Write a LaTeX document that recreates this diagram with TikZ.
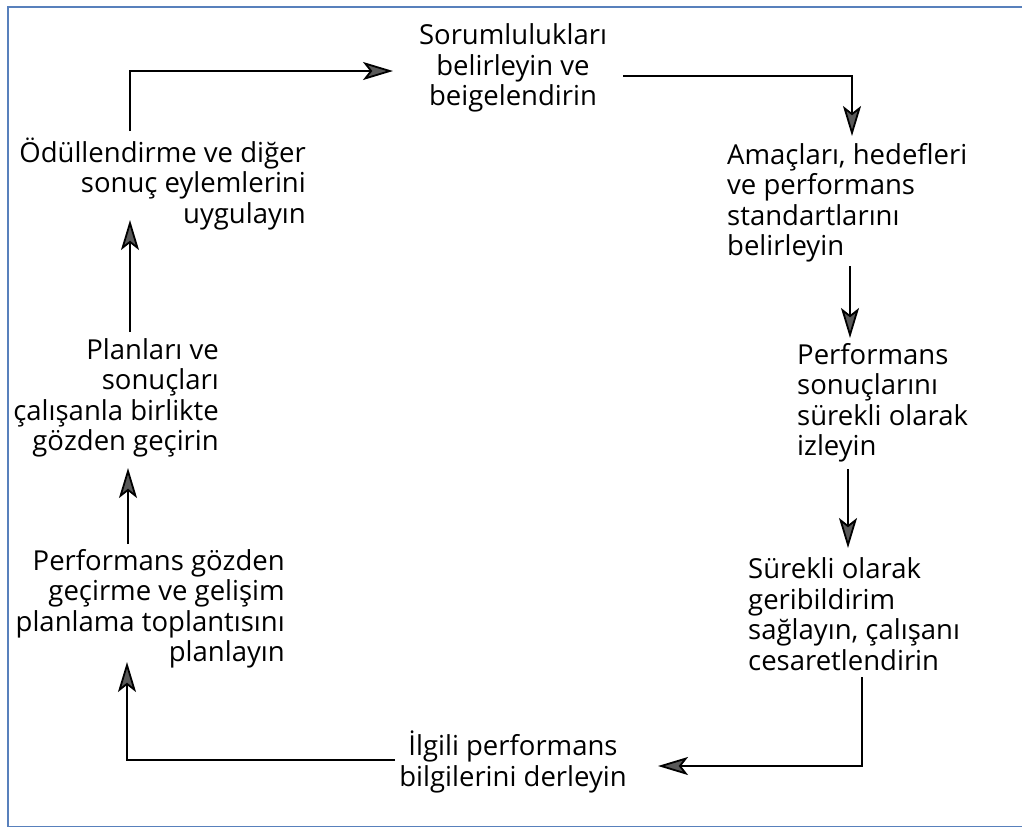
\documentclass[tikz,border=0pt]{standalone}
\usepackage{fontspec}
\setmainfont{Open Sans}
\usetikzlibrary{arrows.meta}
\definecolor{framecol}{RGB}{88,128,188}
\tikzset{
  lbl/.style={inner sep=0pt, font=\fontsize{27.5}{30.5}\selectfont},
  flow/.style={line width=1.8pt, -{Stealth[length=30pt,width=18pt,inset=7pt,fill=gray!70!black]}},
}
\begin{document}
\begin{tikzpicture}[x=1pt,y=-1pt]
\useasboundingbox (0,0) rectangle (1022,828);
\draw[framecol, line width=1.6pt] (1022,7) -- (8,7) -- (8,826.5) -- (1022,826.5);
% nodes
\node[lbl, align=center] (top) at (513,68) {Sorumlulukları\\belirleyin ve\\beigelendirin};
\node[lbl, align=left, anchor=west] (r1) at (727,203) {Amaçları, hedefleri\\ve performans\\standartlarını\\belirleyin};
\node[lbl, align=left, anchor=west] (r2) at (797,403) {Performans\\sonuçlarını\\sürekli olarak\\izleyin};
\node[lbl, align=left, anchor=west] (r3) at (748,614) {Sürekli olarak\\geribildirim\\sağlayın, çalışanı\\cesaretlendirin};
\node[lbl, align=center] (bot) at (513,762) {İlgili performans\\bilgilerini derleyin};
\node[lbl, align=right, anchor=east] (l3) at (285,609) {Performans gözden\\geçirme ve gelişim\\planlama toplantısını\\planlayın};
\node[lbl, align=right, anchor=east] (l2) at (219,398) {Planları ve\\sonuçları\\çalışanla birlikte\\gözden geçirin};
\node[lbl, align=right, anchor=east] (l1) at (306,184) {Ödüllendirme ve diğer\\sonuç eylemlerini\\uygulayın};
% anchor coordinates for connectors
\coordinate (l1s) at (130,131);
\coordinate (topw) at (393,71);
\coordinate (tope) at (623,76);
\coordinate (r1n) at (852,136);
\coordinate (r1s) at (850,266);
\coordinate (r2n) at (850,338);
\coordinate (r2s) at (848,469);
\coordinate (r3n) at (848,548);
\coordinate (r3s) at (862,677);
\coordinate (bote) at (658,766);
\coordinate (botw) at (395,760);
\coordinate (l3n) at (127,662);
\coordinate (l3s) at (128,544);
\coordinate (l2n) at (128,468);
\coordinate (l2s) at (130,332);
\coordinate (l1n) at (130,220);
% connectors
\draw[flow] (l1s) |- (topw);
\draw[flow] (tope) -| (r1n);
\draw[flow] (r1s) -- (r2n);
\draw[flow] (r2s) -- (r3n);
\draw[flow] (r3s) |- (bote);
\draw[flow] (botw) -| (l3n);
\draw[flow] (l3s) -- (l2n);
\draw[flow] (l2s) -- (l1n);
\end{tikzpicture}
\end{document}
